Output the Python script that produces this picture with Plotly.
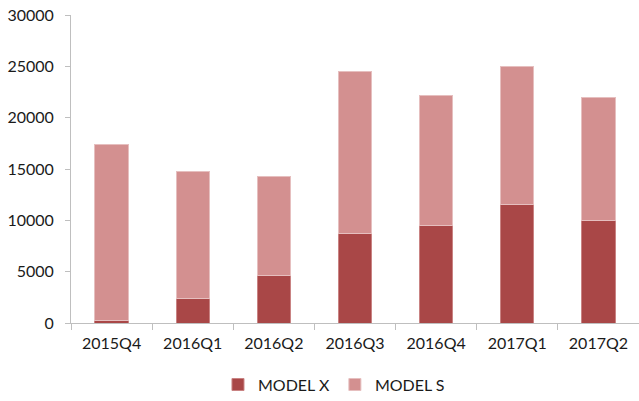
import plotly.graph_objects as go

quarters = ["2015Q4", "2016Q1", "2016Q2", "2016Q3", "2016Q4", "2017Q1", "2017Q2"]
model_x = [200, 2400, 4600, 8700, 9500, 11500, 10000]
model_s = [17200, 12400, 9700, 15800, 12700, 13500, 12000]
y_ticks = [0, 5000, 10000, 15000, 20000, 25000, 30000]
y_tick_labels = ["0", "5000", "10000", "15000", "20000", "25000", "30000"]

font_family = "Lato, 'Open Sans', sans-serif"

fig = go.Figure()
fig.add_trace(go.Bar(
    x=quarters, y=model_x, name="MODEL X",
    marker=dict(color="#A94747", line=dict(color="#C98383", width=1)),
))
fig.add_trace(go.Bar(
    x=quarters, y=model_s, name="MODEL S",
    marker=dict(color="#D39090", line=dict(color="#E6BFBF", width=1)),
))

fig.update_layout(
    barmode="stack",
    bargap=0.59,
    width=639, height=401,
    margin=dict(l=71, r=0, t=15, b=78, autoexpand=False),
    paper_bgcolor="white", plot_bgcolor="white",
    font=dict(family=font_family, size=16, color="#1a1a1a"),
    showlegend=True,
    legend=dict(orientation="h", x=0.463, xanchor="center", y=-0.2, yanchor="middle",
                font=dict(size=16), itemwidth=30, traceorder="normal"),
)
fig.update_xaxes(
    type="category", showgrid=False, showline=True, linecolor="#BFBFBF", linewidth=1,
    ticks="outside", tickson="boundaries", ticklen=6, tickcolor="#BFBFBF",
    ticklabelstandoff=6, automargin=False,
)
fig.update_yaxes(
    range=[0, 30000], tickvals=y_ticks, ticktext=y_tick_labels, showgrid=False, showline=True,
    linecolor="#BFBFBF", linewidth=1, ticks="outside", ticklen=5, tickcolor="#BFBFBF",
    zeroline=False, ticklabelstandoff=8, automargin=False,
)

fig.write_html(
    "out.html",
    config={"displayModeBar": False},
    post_script="document.body.style.margin='0';document.body.style.overflow='hidden';",
)
